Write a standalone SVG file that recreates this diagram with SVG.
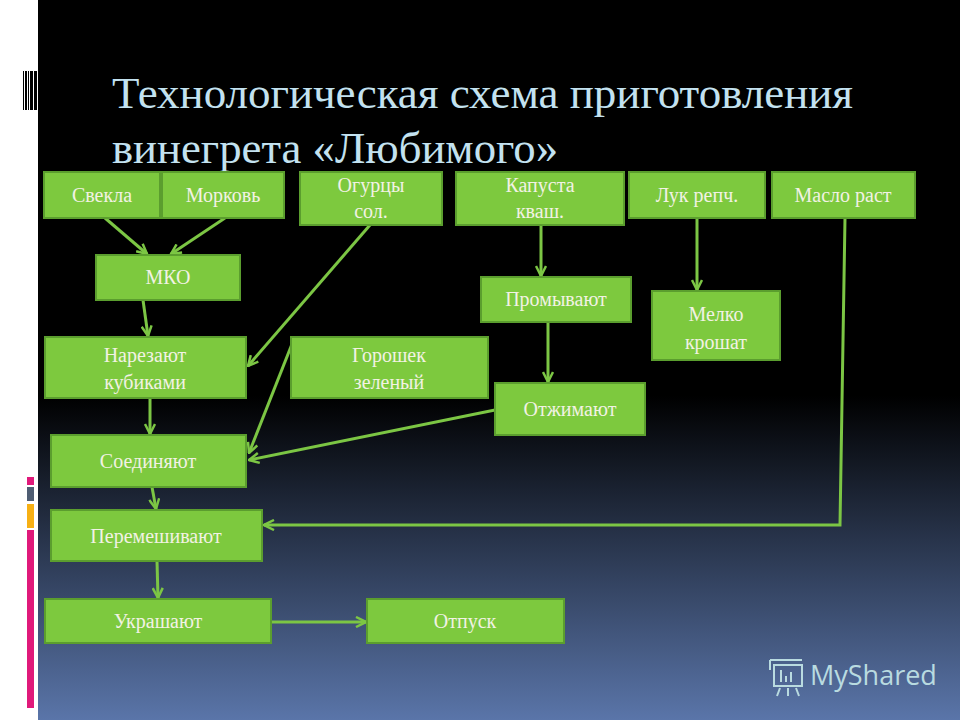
<svg xmlns="http://www.w3.org/2000/svg" width="960" height="720" viewBox="0 0 960 720">
<defs>
<linearGradient id="bg" x1="0" y1="0" x2="0" y2="1">
<stop offset="0" stop-color="#000"/><stop offset="0.55" stop-color="#000"/><stop offset="1" stop-color="#5a75a9"/>
</linearGradient>
<marker id="a" viewBox="0 0 12 12" refX="11" refY="6" markerWidth="12" markerHeight="12" markerUnits="userSpaceOnUse" orient="auto">
<path d="M1,1 L11,6 L1,11" fill="none" stroke="#7cc644" stroke-width="2.5"/>
</marker>
<style>
.b{fill:#7dc93e;stroke:#5b9e2e;stroke-width:2}
.t{font-family:"Liberation Serif","DejaVu Serif",serif;font-size:20px;fill:#f2f2e4;text-anchor:middle}
.h{font-family:"Liberation Serif","DejaVu Serif",serif;font-size:44px;fill:#c3e2f0}
.c{stroke:#7cc644;stroke-width:3;fill:none;marker-end:url(#a)}
</style>
</defs>
<rect width="960" height="720" fill="#fff"/>
<rect x="38" width="922" height="720" fill="url(#bg)"/>
<g fill="#000"><rect x="23" y="71" width="1" height="39"/><rect x="25" y="71" width="2" height="39"/><rect x="28" y="71" width="1" height="39"/><rect x="30" y="71" width="3" height="39"/><rect x="34" y="71" width="3" height="39"/></g>
<rect x="27" y="477" width="7" height="8" fill="#e0197a"/>
<rect x="27" y="487" width="7" height="14" fill="#4f5d73"/>
<rect x="27" y="504" width="7" height="24" fill="#f7b014"/>
<rect x="27" y="530" width="7" height="178" fill="#e0197a"/>
<text class="h" x="112" y="108" textLength="741" lengthAdjust="spacingAndGlyphs">Технологическая схема приготовления</text>
<text class="h" x="112" y="163" textLength="446" lengthAdjust="spacingAndGlyphs">винегрета «Любимого»</text>
<g id="connectors">
<line class="c" x1="105" y1="218" x2="147" y2="254"/>
<line class="c" x1="225" y1="218" x2="171" y2="254"/>
<line class="c" x1="370" y1="225" x2="248" y2="366"/>
<line class="c" x1="541" y1="225" x2="541" y2="276"/>
<line class="c" x1="697" y1="218" x2="697" y2="290"/>
<polyline class="c" points="845,218 840,525 264,525"/>
<line class="c" x1="143" y1="300" x2="148" y2="336"/>
<line class="c" x1="548" y1="322" x2="548" y2="382"/>
<line class="c" x1="150" y1="398" x2="150" y2="434"/>
<line class="c" x1="292" y1="344" x2="249" y2="453"/>
<line class="c" x1="495" y1="410" x2="249" y2="460"/>
<line class="c" x1="152" y1="487" x2="156" y2="509"/>
<line class="c" x1="157" y1="561" x2="158" y2="598"/>
<line class="c" x1="271" y1="622" x2="366" y2="622"/>
</g>
<g id="n1"><rect class="b" x="44" y="172" width="116" height="46"/><text class="t" x="102" y="202">Свекла</text></g>
<g id="n2"><rect class="b" x="162" y="172" width="122" height="46"/><text class="t" x="223" y="202">Морковь</text></g>
<g id="n3"><rect class="b" x="300" y="172" width="142" height="53"/><text class="t" x="371" y="192">Огурцы</text><text class="t" x="371" y="218">сол.</text></g>
<g id="n4"><rect class="b" x="456" y="172" width="168" height="53"/><text class="t" x="540" y="192">Капуста</text><text class="t" x="540" y="218">кваш.</text></g>
<g id="n5"><rect class="b" x="629" y="172" width="136" height="46"/><text class="t" x="697" y="202">Лук репч.</text></g>
<g id="n6"><rect class="b" x="772" y="172" width="143" height="46"/><text class="t" x="843" y="202">Масло раст</text></g>
<g id="n7"><rect class="b" x="96" y="255" width="144" height="45"/><text class="t" x="168" y="284">МКО</text></g>
<g id="n8"><rect class="b" x="481" y="277" width="150" height="45"/><text class="t" x="556" y="306">Промывают</text></g>
<g id="n9"><rect class="b" x="652" y="291" width="128" height="69"/><text class="t" x="716" y="321">Мелко</text><text class="t" x="716" y="349">крошат</text></g>
<g id="n10"><rect class="b" x="45" y="337" width="201" height="61"/><text class="t" x="145" y="362">Нарезают</text><text class="t" x="145" y="389">кубиками</text></g>
<g id="n11"><rect class="b" x="291" y="337" width="197" height="61"/><text class="t" x="389" y="362">Горошек</text><text class="t" x="389" y="389">зеленый</text></g>
<g id="n12"><rect class="b" x="495" y="383" width="150" height="52"/><text class="t" x="570" y="416">Отжимают</text></g>
<g id="n13"><rect class="b" x="51" y="435" width="195" height="52"/><text class="t" x="148" y="468">Соединяют</text></g>
<g id="n14"><rect class="b" x="51" y="510" width="211" height="51"/><text class="t" x="156" y="543">Перемешивают</text></g>
<g id="n15"><rect class="b" x="45" y="599" width="226" height="44"/><text class="t" x="158" y="628">Украшают</text></g>
<g id="n16"><rect class="b" x="367" y="599" width="197" height="44"/><text class="t" x="465" y="628">Отпуск</text></g>
<g stroke="#b9dbe0" stroke-width="2" fill="none">
<rect x="774" y="665" width="28" height="21"/><path d="M770,660 h32 M770,660 v10 M781,670 v12 M786,676 v6 M791,672 v10 M780,688 l-3,8 M788,688 v8 M796,688 l3,8"/>
</g>
<text x="810" y="685" font-family="'Open Sans',sans-serif" font-size="27" fill="#b9dbe0">MyShared</text>
</svg>
